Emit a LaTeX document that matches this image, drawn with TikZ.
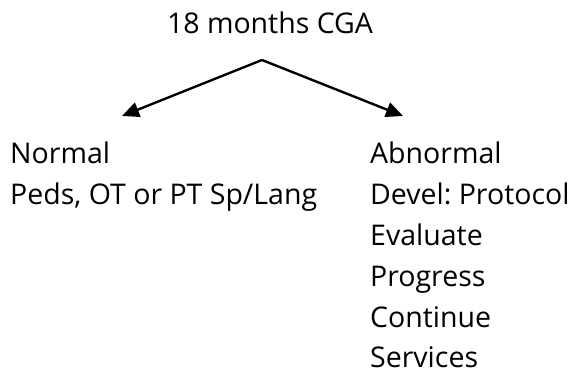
\documentclass[tikz,border=0pt]{standalone}
\usepackage{fontspec}
\setmainfont{Open Sans}
\usetikzlibrary{arrows.meta}
\begin{document}
\frenchspacing
\begin{tikzpicture}[x=1pt,y=-1pt,
  lbl/.style={anchor=base west,inner sep=0pt,font=\fontsize{28.5}{32}\selectfont},
  conn/.style={line width=2.4pt,-{Triangle[length=17pt,width=15pt]}}]
\useasboundingbox (0,0) rectangle (574,375);
\node[lbl,anchor=base] (t) at (270,33) {18 months CGA};
\coordinate (a) at (262,60);
\coordinate (lt) at (122,116);
\coordinate (rt) at (403,116);
\draw[conn] (a) -- (lt);
\draw[conn] (a) -- (rt);
\node[lbl] (n1) at (10,163) {Normal};
\node[lbl] (n2) at (10,204) {Peds, OT or PT Sp/Lang};
\node[lbl] (b1) at (370,163) {Abnormal};
\node[lbl] (b2) at (370,204) {Devel: Protocol};
\node[lbl] (b3) at (370,245) {Evaluate};
\node[lbl] (b4) at (370,286) {Progress};
\node[lbl] (b5) at (370,327) {Continue};
\node[lbl] (b6) at (370,367) {Services};
\end{tikzpicture}
\end{document}
